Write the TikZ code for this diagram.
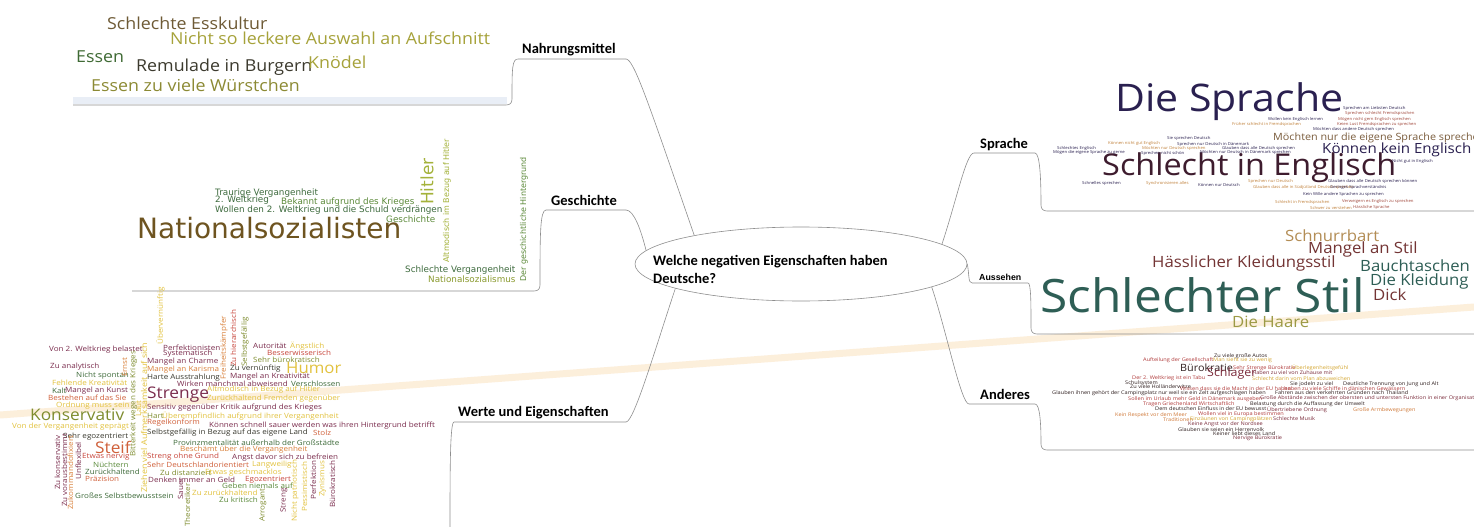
\documentclass[tikz,border=0pt]{standalone}
\usepackage{fontspec}
\usetikzlibrary{shapes.geometric}
\setmainfont{Carlito}
\newfontfamily\cloudfont[FakeStretch=1.08]{Open Sans}
\newfontfamily\smallfont[FakeStretch=1.12]{Open Sans}
\newfontfamily\histfont{DejaVu Sans}
\newfontfamily\heavyfont{Liberation Sans}
\newcommand{\fsz}[1]{\fontsize{#1}{#1}\selectfont}

\definecolor{linegray}{HTML}{8E8E8E}
\definecolor{bandc}{HTML}{FCEBD3}
\definecolor{panelblue}{HTML}{E9EEF6}
% Nahrungsmittel
\definecolor{nbrown}{HTML}{6E5A35}
\definecolor{nyellow}{HTML}{A6A23A}
\definecolor{ngreen}{HTML}{3F6A34}
\definecolor{ngray}{HTML}{3C3A2E}
\definecolor{nolive}{HTML}{8C8A34}
% Geschichte
\definecolor{gdark}{HTML}{3E6B3E}
\definecolor{gmid}{HTML}{5C8A3A}
\definecolor{glight}{HTML}{A4B23A}
\definecolor{golive}{HTML}{8A9A2E}
\definecolor{gbrown}{HTML}{6E5420}
% Sprache
\definecolor{snavy}{HTML}{2A2050}
\definecolor{smaroon}{HTML}{3E1C2E}
\definecolor{sbrown}{HTML}{7A5C3C}
\definecolor{sorange}{HTML}{C0803A}
\definecolor{sred}{HTML}{A0463A}
% Aussehen
\definecolor{atan}{HTML}{B38D55}
\definecolor{amaroon}{HTML}{733434}
\definecolor{ateal}{HTML}{2E5E55}
\definecolor{aolive}{HTML}{9C9A45}
% Anderes
\definecolor{odark}{HTML}{2E1E1E}
\definecolor{ored}{HTML}{B03A3A}
\definecolor{ogold}{HTML}{D4A630}
\definecolor{omaroon}{HTML}{7A2A3A}
\definecolor{oorange}{HTML}{D07A3A}
% Werte und Eigenschaften
\definecolor{wmaroon}{HTML}{7B2D4E}
\definecolor{wyellow}{HTML}{E2C23E}
\definecolor{worange}{HTML}{D9803A}
\definecolor{wredor}{HTML}{D0603A}
\definecolor{wred}{HTML}{C8463C}
\definecolor{wgreen}{HTML}{3E6B3A}
\definecolor{wgreenb}{HTML}{5A8A3A}
\definecolor{wolive}{HTML}{7E8C2E}
\definecolor{wdark}{HTML}{3A3A30}

\tikzset{
  word/.style={anchor=west, inner sep=0pt},
  upword/.style={word, rotate=90},
  food/.style={word, font=\cloudfont\fsz{16.5}},
  hist/.style={word, font=\histfont\fsz{8.8}},
  lang/.style={word, font=\cloudfont\fsz{4}},
  look/.style={word, font=\cloudfont\fsz{15.5}},
  misc/.style={word, font=\smallfont\fsz{5}},
  trait/.style={word, font=\smallfont\fsz{7.2}},
  uptrait/.style={upword, font=\smallfont\fsz{7.2}},
  topic/.style={anchor=base west, inner sep=0pt, font=\bfseries\fsz{14.5}},
  branch/.style={draw=linegray, line width=0.6pt},
}

\begin{document}
\begin{tikzpicture}[x=1pt,y=-1pt]

\fill[white] (0,0) rectangle (1474,527);
\useasboundingbox (0,0) rectangle (1474,527);

\coordinate (band1) at (0,415);
\coordinate (band2) at (1474,307);
\draw[line width=7pt, draw=bandc, line cap=round, opacity=0.8] (band1) -- (band2);

% centre
\node[ellipse, draw=linegray, line width=0.6pt, minimum width=332pt, minimum height=74pt] (q) at (801,264) {};
\node[anchor=west, align=left, inner sep=0pt, font=\bfseries\fontsize{14.5}{18}\selectfont] (qtext) at (653,269) {Welche negativen Eigenschaften haben\\Deutsche?};

% topics
\node[topic] (nah) at (522,53) {Nahrungsmittel};
\node[topic] (ges) at (551,205) {Geschichte};
\node[topic] (wer) at (458,416) {Werte und Eigenschaften};
\node[topic] (spr) at (980,148) {Sprache};
\node[anchor=base west, inner sep=0pt, font=\heavyfont\bfseries\fsz{8.8}] (aus) at (979,280) {Aussehen};
\node[topic] (and) at (980,399) {Anderes};

\coordinate (nahL) at (518,59);   \coordinate (nahR) at (626,59);
\coordinate (nahC) at (512,99);   \coordinate (nahB) at (506,105);  \coordinate (nahE) at (73,105);
\coordinate (gesL) at (546,210);  \coordinate (gesR) at (626,210);
\coordinate (gesC) at (540,285);  \coordinate (gesB) at (534,291);  \coordinate (gesE) at (132,291);
\coordinate (werL) at (454,422);  \coordinate (werR) at (626,422);  \coordinate (werB) at (450,530);
\coordinate (sprL) at (974,153);  \coordinate (sprR) at (1035,153);
\coordinate (sprC) at (1041,205); \coordinate (sprB) at (1047,211); \coordinate (sprE) at (1474,211);
\coordinate (ausL) at (972,283);  \coordinate (ausR) at (1028,283);
\coordinate (ausC) at (1031,328); \coordinate (ausB) at (1037,334); \coordinate (ausE) at (1474,334);
\coordinate (andL) at (969,404);  \coordinate (andR) at (1035,404);
\coordinate (andC) at (1041,444); \coordinate (andB) at (1047,450); \coordinate (andE) at (1474,450);

\fill[panelblue] (73,97) rectangle (507,104);

\draw[branch] (nahR) .. controls +(8,0) and +(-45,-130) .. (q.165.6);
\draw[branch] (gesR) .. controls +(8,0) and +(-5,-20) .. (q.175.6);
\draw[branch] (werR) .. controls +(8,0) and +(-20,60) .. (q.191);
\draw[branch] (sprL) .. controls +(-8,0) and +(15,-45) .. (q.8);
\draw[branch] (q.east) .. controls +(2,10) and +(-4,0) .. (ausL);
\draw[branch] (andL) .. controls +(-8,0) and +(15,45) .. (q.350.4);

\draw[branch] (nahR) -- (nahL) .. controls +(-6,0) and +(0,-30) .. (nahC) .. controls +(0,4) and +(4,0) .. (nahB) -- (nahE);
\draw[branch] (gesR) -- (gesL) .. controls +(-6,0) and +(0,-50) .. (gesC) .. controls +(0,4) and +(4,0) .. (gesB) -- (gesE);
\draw[branch] (werR) -- (werL) .. controls +(-4,0) and +(0,-60) .. (werB);
\draw[branch] (sprL) -- (sprR) .. controls +(5,0) and +(0,-25) .. (sprC) .. controls +(0,4) and +(-4,0) .. (sprB) -- (sprE);
\draw[branch] (ausL) -- (ausR) .. controls +(3,0) and +(0,-25) .. (ausC) .. controls +(0,4) and +(-4,0) .. (ausB) -- (ausE);
\draw[branch] (andL) -- (andR) .. controls +(5,0) and +(0,-20) .. (andC) .. controls +(0,4) and +(-4,0) .. (andB) -- (andE);

% Nahrungsmittel
\node[food, text=nbrown] (n1) at (107,23) {Schlechte Esskultur};
\node[food, text=nyellow] (n2) at (170,38) {Nicht so leckere Auswahl an Aufschnitt};
\node[food, text=ngreen] (n3) at (76,57) {Essen};
\node[food, text=ngray] (n4) at (136,67) {Remulade in Burgern};
\node[food, text=nyellow] (n5) at (308,62) {Knödel};
\node[food, text=nolive] (n6) at (91,85) {Essen zu viele Würstchen};

% Geschichte
\node[hist, text=gdark] (g1) at (215,193) {Traurige Vergangenheit};
\node[hist, text=gdark] (g2) at (215,200) {2. Weltkrieg};
\node[hist, text=gmid] (g3) at (281,202) {Bekannt aufgrund des Krieges};
\node[hist, text=gdark] (g4) at (215,210) {Wollen den 2. Weltkrieg und die Schuld verdrängen};
\node[hist, text=gmid] (g5) at (386,219) {Geschichte};
\node[hist, text=gbrown, font=\histfont\fsz{28}] (g6) at (137,228) {Nationalsozialisten};
\node[hist, upword, text=glight, font=\histfont\fsz{17}] (g7) at (427,205) {Hitler};
\node[hist, upword, text=glight, font=\histfont\fsz{8}] (g8) at (447,263) {Altmodisch im Bezug auf Hitler};
\node[hist, text=gdark] (g9) at (405,270) {Schlechte Vergangenheit};
\node[hist, text=golive] (g10) at (428,279) {Nationalsozialismus};
\node[hist, upword, text=gmid, font=\histfont\fsz{8}] (g11) at (524,282) {Der geschichtliche Hintergrund};

% Sprache
\node[word, text=snavy, font=\cloudfont\fsz{38}] (s1) at (1115,102) {Die Sprache};
\node[word, text=smaroon, font=\cloudfont\fsz{30}] (s2) at (1102,168) {Schlecht in Englisch};
\node[word, text=sbrown, font=\cloudfont\fsz{10}] (s3) at (1273,138) {Möchten nur die eigene Sprache sprechen};
\node[word, text=snavy, font=\cloudfont\fsz{14}] (s4) at (1322,150) {Können kein Englisch};
\node[lang, text=snavy] (s5) at (1343,108) {Sprechen am Liebsten Deutsch};
\node[lang, text=sred] (s6) at (1345,113.5) {Sprechen schlecht Fremdsprachen};
\node[lang, text=snavy] (s7) at (1268,119) {Wollen kein Englisch lernen};
\node[lang, text=sred] (s8) at (1338,119) {Mögen nicht gern Englisch sprechen};
\node[lang, text=sorange] (s9) at (1232,124) {Früher schlecht in Fremdsprachen};
\node[lang, text=sred] (s10) at (1337,124.5) {Keien Lust Fremdsprachen zu sprechen};
\node[lang, text=snavy] (s11) at (1313,129.5) {Möchten dass andere Deutsch sprechen};
\node[lang, text=snavy] (s12) at (1167,138) {Sie sprechen Deutsch};
\node[lang, text=sorange] (s13) at (1108,143) {Können nicht gut Englisch};
\node[lang, text=snavy] (s14) at (1177,144) {Sprechen nur Deutsch in Dänemark};
\node[lang, text=snavy] (s15) at (1057,148) {Schlechtes Englisch};
\node[lang, text=sorange] (s16) at (1142,148) {Möchten nur Deutsch sprechen};
\node[lang, text=snavy] (s17) at (1222,148) {Glauben dass alle Deutsch sprechen};
\node[lang, text=snavy] (s18) at (1053,152.5) {Mögen die eigene Sprache zu gerne};
\node[lang, text=snavy] (s19) at (1141,153) {Sprechen nicht schön};
\node[lang, text=snavy] (s20) at (1200,152.5) {Möchten nur Deutsch in Dänemark sprechen};
\node[lang, text=snavy] (s21) at (1392,161) {Nicht gut in Englisch};
\node[lang, text=snavy] (s22) at (1082,183) {Schnelles sprechen};
\node[lang, text=sorange] (s23) at (1146,183) {Synchronisieren alles};
\node[lang, text=snavy] (s24) at (1198,185) {Können nur Deutsch};
\node[lang, text=sorange] (s25) at (1248,181.5) {Sprechen nur Deutsch};
\node[lang, text=sorange] (s26) at (1253,187.5) {Glauben dass alle in Südjütland Deutsch sprechen};
\node[lang, text=snavy] (s27) at (1328,181.5) {Glauben dass alle Deutsch sprechen können};
\node[lang, text=snavy] (s28) at (1330,187.5) {Geringes Sprachverständnis};
\node[lang, text=snavy] (s29) at (1303,194) {Kein Wille andere Sprachen zu sprechen};
\node[lang, text=sorange] (s30) at (1275,202) {Schlecht in Fremdsprachen};
\node[lang, text=sred] (s31) at (1342,201) {Verweigern es Englisch zu sprechen};
\node[lang, text=sorange] (s32) at (1310,208) {Schwer zu verstehen};
\node[lang, text=sred] (s33) at (1353,207) {Hässliche Sprache};

% Aussehen
\node[look, text=atan] (a1) at (1285,236) {Schnurrbart};
\node[look, text=amaroon] (a2) at (1308,249) {Mangel an Stil};
\node[look, text=amaroon] (a3) at (1152,263) {Hässlicher Kleidungsstil};
\node[look, text=ateal] (a4) at (1360,266) {Bauchtaschen};
\node[look, text=ateal, font=\cloudfont\fsz{46}] (a5) at (1040,295) {Schlechter Stil};
\node[look, text=ateal] (a6) at (1370,281) {Die Kleidung};
\node[look, text=amaroon] (a7) at (1373,295) {Dick};
\node[look, text=aolive] (a8) at (1232,322) {Die Haare};

% Anderes
\node[misc, text=odark] (o1) at (1214,356) {Zu viele große Autos};
\node[misc, text=ored] (o2) at (1143,360) {Aufteilung der Gesellschaft};
\node[misc, text=ogold] (o3) at (1213,360) {Man sieht sie zu wenig};
\node[misc, text=odark, font=\cloudfont\fsz{10}] (o4) at (1180,368) {Bürokratie};
\node[misc, text=ored] (o5) at (1233,368) {Sehr Strenge Bürokratie};
\node[misc, text=ogold] (o6) at (1292,368) {Überlegenheitsgefühl};
\node[misc, text=omaroon, font=\cloudfont\fsz{11.5}] (o7) at (1207,374) {Schlager};
\node[misc, text=omaroon] (o8) at (1252,373) {Haben zu viel von Zuhause mit};
\node[misc, text=ored] (o9) at (1132,378) {Der 2. Weltkrieg ist ein Tabu};
\node[misc, text=ogold] (o10) at (1252,379) {Schlecht darin vom Plan abzuweichen};
\node[misc, text=odark] (o11) at (1125,383) {Schulsystem};
\node[misc, text=odark] (o12) at (1130,387) {Zu viele Holländerwitze};
\node[misc, text=ored] (o13) at (1180,389) {Wissen dass sie die Macht in der EU haben};
\node[misc, text=odark] (o14) at (1290,384) {Sie jodeln zu viel};
\node[misc, text=odark] (o15) at (1343,384) {Deutliche Trennung von Jung und Alt};
\node[misc, text=ored] (o16) at (1284,388.5) {haben zu viele Schiffe in dänischen Gewässern};
\node[misc, text=odark] (o17) at (1052,393) {Glauben ihnen gehört der Campingplatz nur weil sie ein Zelt aufgeschlagen haben};
\node[misc, text=odark] (o18) at (1275,393) {Fahren aus den verkehrten Gründen nach Thailand};
\node[misc, text=ored] (o19) at (1128,399) {Sollen im Urlaub mehr Geld in Dänemark ausgeben};
\node[misc, text=omaroon] (o20) at (1260,398) {Große Abstände zwischen der obersten und untersten Funktion in einer Organisation};
\node[misc, text=ored] (o21) at (1143,404) {Tragen Griechenland Wirtschaftlich};
\node[misc, text=odark] (o22) at (1250,404) {Belastung durch die Auffassung der Umwelt};
\node[misc, text=odark] (o23) at (1155,409) {Dem deutschen Einfluss in der EU bewusst};
\node[misc, text=omaroon] (o24) at (1267,410) {Übertriebene Ordnung};
\node[misc, text=oorange] (o25) at (1353,410) {Große Armbewegungen};
\node[misc, text=oorange] (o26) at (1115,415) {Kein Respekt vor dem Meer};
\node[misc, text=ored] (o27) at (1198,414) {Wollen viel in Europa bestimmen};
\node[misc, text=oorange] (o28) at (1163,420) {Traditionen};
\node[misc, text=ogold] (o29) at (1190,419) {Einzäunen von Campingplätzen};
\node[misc, text=omaroon] (o30) at (1273,419) {Schlechte Musik};
\node[misc, text=omaroon] (o31) at (1188,424.5) {Keine Angst vor der Nordsee};
\node[misc, text=odark] (o32) at (1178,430) {Glauben sie seien ein Herrenvolk};
\node[misc, text=odark] (o33) at (1213,434) {Keiner liebt dieses Land};
\node[misc, text=omaroon] (o34) at (1233,438) {Nervige Bürokratie};

% Werte und Eigenschaften
\node[trait, text=wmaroon] (w1) at (49,350) {Von 2. Weltkrieg belastet};
\node[trait, text=wmaroon] (w2) at (163,348) {Perfektionisten};
\node[trait, text=wmaroon] (w3) at (163,354) {Systematisch};
\node[uptrait, text=wyellow] (w4) at (160.5,345) {Übervernünftig};
\node[trait, text=wmaroon] (w5) at (147,362) {Mangel an Charme};
\node[trait, text=wmaroon] (w6) at (50,367) {Zu analytisch};
\node[trait, text=wgreen] (w7) at (76,376) {Nicht spontan};
\node[trait, text=worange] (w8) at (147,370) {Mangel an Karisma};
\node[trait, text=wdark] (w9) at (147,378) {Harte Ausstrahlung};
\node[uptrait, text=worange] (w10) at (124.5,377) {Ernst};
\node[uptrait, text=wolive] (w11) at (133.5,457) {Bitterkeit wegen des Krieges};
\node[uptrait, text=wyellow] (w12) at (138.5,417) {Laut};
\node[uptrait, text=wyellow, font=\smallfont\fsz{8}] (w13) at (144,493) {Ziehen viel Aufmerksamkeit auf sich};
\node[trait, text=wyellow] (w14) at (52,383) {Fehlende Kreativität};
\node[trait, text=wgreen] (w15) at (52,391) {Kalt};
\node[trait, text=wmaroon] (w16) at (65,391) {Mangel an Kunst};
\node[trait, text=wredor] (w17) at (48,398) {Bestehen auf das Sie};
\node[trait, text=wyellow] (w18) at (56,406) {Ordnung muss sein};
\node[trait, text=wmaroon, font=\cloudfont\fsz{16}] (w19) at (147,395) {Strenge};
\node[trait, text=wyellow] (w20) at (207,390) {Altmodisch in Bezug auf Hitler};
\node[trait, text=wyellow] (w21) at (207,399) {Zurückhaltend Fremden gegenüber};
\node[trait, text=wmaroon] (w22) at (147,407.5) {Sensitiv gegenüber Kritik aufgrund des Krieges};
\node[trait, text=wolive, font=\cloudfont\fsz{16}] (w23) at (30,415) {Konservativ};
\node[trait, text=wolive] (w24) at (147,416) {Hart};
\node[trait, text=wyellow] (w25) at (162,416) {Überempfindlich aufgrund ihrer Vergangenheit};
\node[trait, text=wyellow] (w26) at (12,427) {Von der Vergangenheit geprägt};
\node[trait, text=wredor] (w27) at (147,423) {Regelkonform};
\node[trait, text=wmaroon] (w28) at (209,426) {Können schnell sauer werden was ihren Hintergrund betrifft};
\node[trait, text=wdark] (w29) at (63,437) {Sehr egozentriert};
\node[trait, text=wdark] (w30) at (147,433) {Selbstgefällig in Bezug auf das eigene Land};
\node[trait, text=wredor] (w31) at (313,433) {Stolz};
\node[uptrait, text=wmaroon] (w32) at (57.5,490) {Zu konservativ};
\node[uptrait, text=wmaroon] (w33) at (64.5,507) {Zu vorausbestimmt};
\node[uptrait, text=worange] (w34) at (70.5,510) {Zukommandofixiert};
\node[uptrait, text=wmaroon] (w35) at (78.5,480) {Unflexibel};
\node[trait, text=wredor, font=\cloudfont\fsz{16}] (w36) at (95,447) {Steif};
\node[trait, text=wgreen] (w37) at (173,443) {Provinzmentalität außerhalb der Großstädte};
\node[trait, text=worange] (w38) at (180,449.5) {Beschämt über die Vergangenheit};
\node[trait, text=wred] (w39) at (82,457) {Etwas nervig};
\node[trait, text=wred] (w40) at (147,457) {Streng ohne Grund};
\node[trait, text=wmaroon] (w41) at (232,458) {Angst davor sich zu befreien};
\node[trait, text=wgreenb] (w42) at (93,465) {Nüchtern};
\node[trait, text=wredor] (w43) at (147,465) {Sehr Deutschlandorientiert};
\node[trait, text=wyellow] (w44) at (252,465) {Langweilig};
\node[trait, text=wgreen] (w45) at (85,472) {Zurückhaltend};
\node[trait, text=wredor] (w46) at (85,478.5) {Präzision};
\node[trait, text=wolive] (w47) at (160,472.5) {Zu distanziert};
\node[trait, text=wyellow] (w48) at (205,472.5) {Etwas geschmacklos};
\node[trait, text=wmaroon] (w49) at (148,479.5) {Denken immer an Geld};
\node[trait, text=wred] (w50) at (245,479.5) {Egozentriert};
\node[trait, text=wgreenb] (w51) at (222,486) {Geben niemals auf};
\node[trait, text=wgreen] (w52) at (75,496) {Großes Selbstbewusstsein};
\node[trait, text=wyellow] (w53) at (192,493) {Zu zurückhaltend};
\node[trait, text=wgreenb] (w54) at (219,500) {Zu kritisch};
\node[uptrait, text=wmaroon] (w55) at (180.5,500) {Sauer};
\node[uptrait, text=wolive] (w56) at (187.5,527) {Theoretiker};
\node[uptrait, text=worange] (w57) at (224,380) {Freiheitskämpfer};
\node[uptrait, text=wred] (w58) at (233.5,367) {Zu hierarchisch};
\node[uptrait, text=wolive] (w59) at (245,367) {Selbstgefällig};
\node[trait, text=wmaroon] (w60) at (253,346) {Autorität};
\node[trait, text=wyellow] (w61) at (290,346) {Ängstlich};
\node[trait, text=wred] (w62) at (267,353) {Besserwisserisch};
\node[trait, text=wolive] (w63) at (253,360) {Sehr bürokratisch};
\node[trait, text=wdark] (w64) at (230,369) {Zu vernünftig};
\node[trait, text=wyellow, font=\cloudfont\fsz{15.5}] (w65) at (286,368) {Humor};
\node[trait, text=wmaroon] (w66) at (230,377) {Mangel an Kreativität};
\node[trait, text=wmaroon] (w67) at (177,384) {Wirken manchmal abweisend};
\node[trait, text=wgreen] (w68) at (291,384) {Verschlossen};
\node[uptrait, text=wolive] (w69) at (263,522) {Arrogant};
\node[uptrait, text=wmaroon] (w70) at (284,513) {Streng};
\node[uptrait, text=wyellow] (w71) at (295,522) {Nicht patriotisch};
\node[uptrait, text=wyellow] (w72) at (304.5,512) {Pessimistisch};
\node[uptrait, text=wmaroon] (w73) at (313.5,500) {Perfektion};
\node[uptrait, text=wyellow] (w74) at (322.5,497) {Zynismus};
\node[uptrait, text=wmaroon] (w75) at (332.5,508) {Bürokratisch};

\end{tikzpicture}
\end{document}
